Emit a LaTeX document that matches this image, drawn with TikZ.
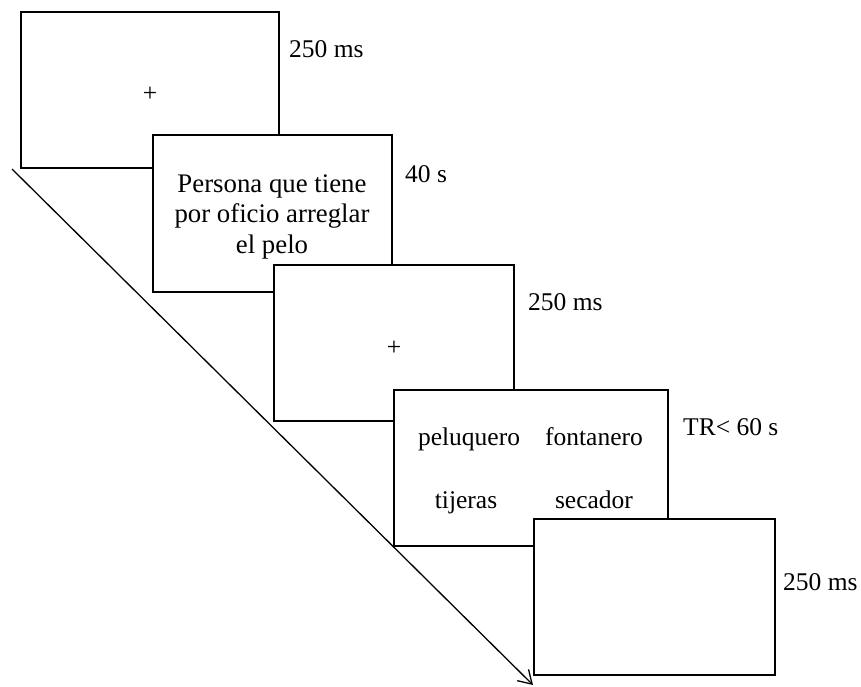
\documentclass[tikz,border=0pt]{standalone}
\usepackage{fontspec}
\setmainfont{Liberation Serif}
\usetikzlibrary{arrows.meta}
\begin{document}
\begin{tikzpicture}[x=1pt,y=-1pt,
  screen/.style={draw=black,fill=white,line width=1.9pt,rectangle,anchor=north west,inner sep=0pt,outer sep=0pt},
  txt/.style={font=\fontsize{25.5}{30.5}\selectfont,inner sep=0pt,anchor=base},
  lbl/.style={font=\fontsize{25.5}{30.5}\selectfont,inner sep=0pt,anchor=base west}]
\useasboundingbox (0,0) rectangle (861,686);
\coordinate (s) at (12,169);
\coordinate (e) at (533,685);
\draw[line width=1.3pt,-{Straight Barb[length=13pt,width=16pt,line width=1.3pt]}] (s) -- (e);
\node[screen,minimum width=258pt,minimum height=156pt] (b1) at (21,12) {};
\node[txt] (p1) at (150,101) {+};
\node[screen,minimum width=239pt,minimum height=157pt] (b2) at (153,135) {};
\node[txt,align=center,font=\fontsize{26.8}{30.5}\selectfont] (t2) at (272,253) {Persona que tiene\\por oficio arreglar\\el pelo};
\node[screen,minimum width=240pt,minimum height=156pt] (b3) at (274,265) {};
\node[txt] (p3) at (394,355) {+};
\node[screen,minimum width=274pt,minimum height=156pt] (b4) at (394,390) {};
\node[txt] (w1) at (469,445) {peluquero};
\node[txt] (w2) at (594,445) {fontanero};
\node[txt] (w3) at (466,508) {tijeras};
\node[txt] (w4) at (594,508) {secador};
\node[screen,minimum width=241pt,minimum height=156pt] (b5) at (534,519) {};
\node[lbl] (l1) at (289,57) {250 ms};
\node[lbl] (l2) at (405,182) {40 s};
\node[lbl] (l3) at (528,310) {250 ms};
\node[lbl] (l4) at (683,435) {TR< 60 s};
\node[lbl] (l5) at (783,590) {250 ms};
\end{tikzpicture}
\end{document}
